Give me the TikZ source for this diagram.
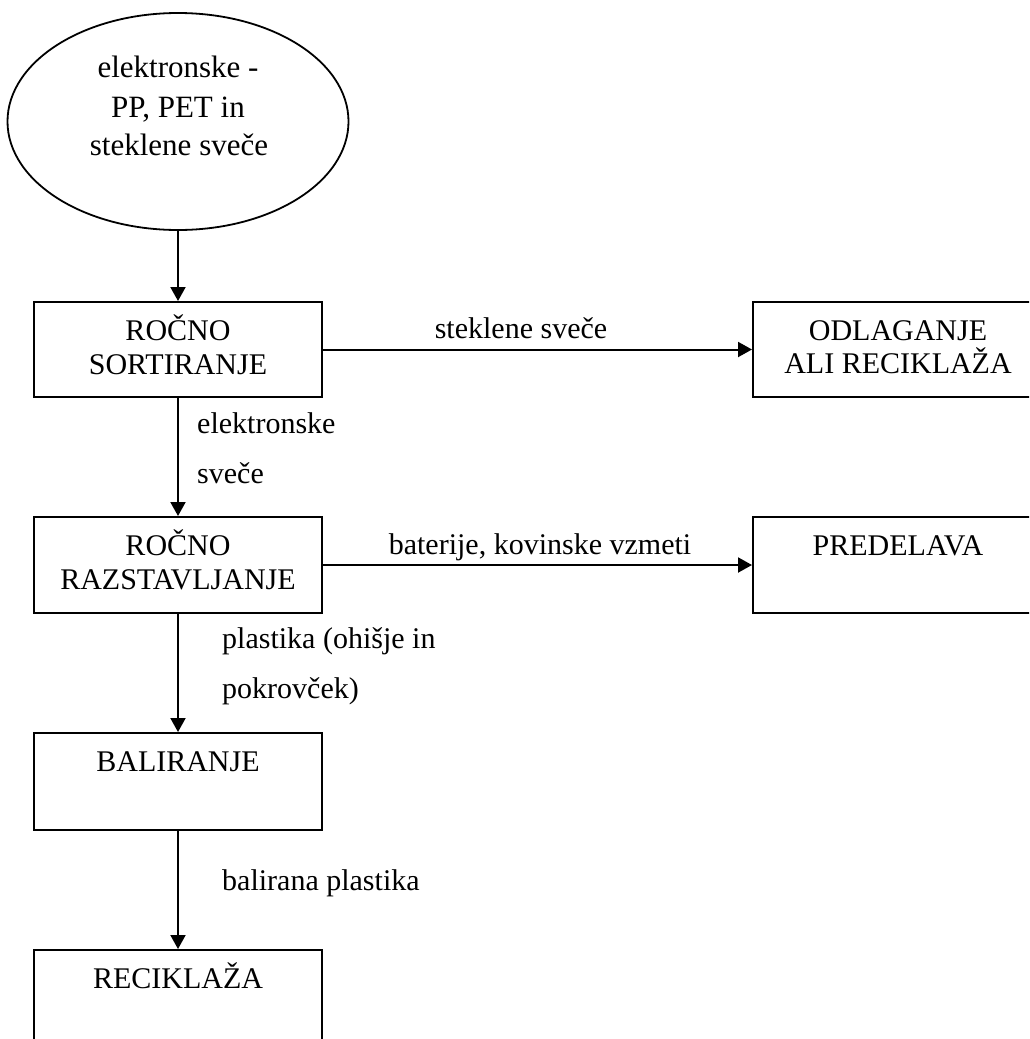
\documentclass[tikz,border=0pt]{standalone}
\usepackage{fontspec}
\setmainfont{Liberation Serif}
\usetikzlibrary{shapes.geometric,arrows.meta}

\tikzset{
  box/.style n args={2}{draw, line width=2pt, rectangle, inner sep=0pt,
    minimum width=#1pt, minimum height=#2pt},
  startnode/.style={draw, ellipse, line width=1.8pt, inner sep=0pt,
    minimum width=341pt, minimum height=217pt},
  txt/.style={anchor=base, inner sep=0pt, font=\fontsize{30}{34.5}\selectfont},
  bigtxt/.style={txt, font=\fontsize{31}{39}\selectfont},
  lbl/.style={txt, anchor=base west},
  flow/.style={line width=2pt, -{Triangle[length=14pt,width=15pt]}}
}

\begin{document}
\begin{tikzpicture}[x=1pt,y=-1pt]
  \useasboundingbox (0,0) rectangle (1029,1039);
  \clip (0,0) rectangle (1029,1039);

  % start: the incoming candles
  \node[startnode] (src) at (178,121.5) {};
  \node[bigtxt] (src1) at (178,77) {elektronske -};
  \node[bigtxt] (src2) at (178,117) {PP, PET in};
  \node[bigtxt] (src3) at (179,155) {steklene sveče};

  % main column of process steps
  \node[box={288}{95}] (sort) at (178,349.5) {};
  \node[txt] (sort1) at (178,340) {ROČNO};
  \node[txt] (sort2) at (178,374) {SORTIRANJE};

  \node[box={288}{96}] (dis) at (178,565) {};
  \node[txt] (dis1) at (178,555) {ROČNO};
  \node[txt] (dis2) at (178,589) {RAZSTAVLJANJE};

  \node[box={288}{97}] (bal) at (178,781.5) {};
  \node[txt] (bal1) at (178,771) {BALIRANJE};

  \node[box={288}{96}] (rec) at (178,998) {};
  \node[txt] (rec1) at (178,988) {RECIKLAŽA};

  % side outputs
  \node[box={290}{95}] (disp) at (898,349.5) {};
  \node[txt] (disp1) at (898,340) {ODLAGANJE};
  \node[txt] (disp2) at (898,373) {ALI RECIKLAŽA};

  \node[box={290}{96}] (pred) at (898,565) {};
  \node[txt] (pred1) at (898,555) {PREDELAVA};

  % connectors
  \draw[flow] (src.south) -- (sort.north);
  \draw[flow] (sort.east |- disp.west) -- (disp.west);
  \draw[flow] (sort.south) -- (dis.north);
  \draw[flow] (dis.east |- pred.west) -- (pred.west);
  \draw[flow] (dis.south) -- (bal.north);
  \draw[flow] (bal.south) -- (rec.north);

  % connector labels
  \node[txt] (l1) at (521,338) {steklene sveče};
  \node[lbl] (l2a) at (197,433) {elektronske};
  \node[lbl] (l2b) at (197,483) {sveče};
  \node[txt] (l3) at (540,554) {baterije, kovinske vzmeti};
  \node[lbl] (l4a) at (222,648) {plastika (ohišje in};
  \node[lbl] (l4b) at (222,698) {pokrovček)};
  \node[lbl] (l5) at (222,890) {balirana plastika};
\end{tikzpicture}
\end{document}
